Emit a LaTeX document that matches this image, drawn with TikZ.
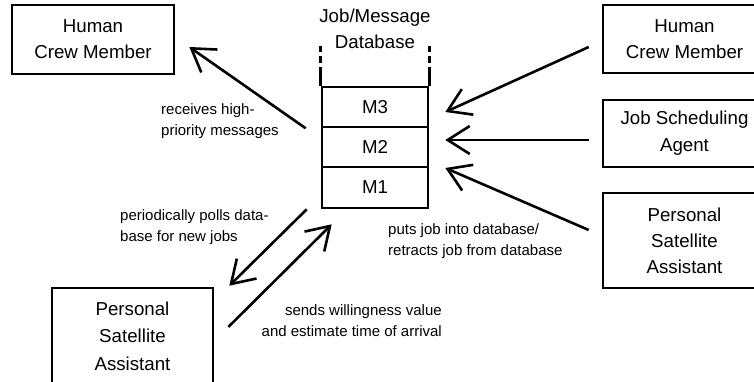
\documentclass[tikz,border=0pt]{standalone}
\usepackage{fontspec}
\setmainfont{Liberation Sans}
\usetikzlibrary{arrows.meta}
\begin{document}
\begin{tikzpicture}[x=1pt,y=-1pt,
  box/.style={draw,line width=2.6pt,align=center,inner sep=0pt,
    font=\fontsize{18.7}{26}\selectfont},
  cell/.style={draw,line width=2.6pt,minimum width=106pt,inner sep=0pt,
    font=\fontsize{18.7}{26}\selectfont},
  lbl/.style={inner sep=0pt,font=\fontsize{15}{21}\selectfont},
  arr/.style={line width=2.6pt,-{Straight Barb[length=22pt,width=28pt]}},
  dbline/.style={line width=2.6pt}]
\useasboundingbox (0,0) rectangle (754,381);
\clip (0,0) rectangle (754,381);
% boxes
\node[box,minimum width=162pt,minimum height=69pt] (tl) at (93,39.5) {Human\\Crew Member};
\node[box,minimum width=163pt,minimum height=68pt] (hr) at (684.5,39) {Human\\Crew Member};
\node[box,minimum width=163pt,minimum height=67pt,font=\fontsize{18.7}{27}\selectfont] (jsa) at (684.5,133.5) {Job Scheduling\\Agent};
\node[box,minimum width=163pt,minimum height=95pt] (psar) at (684.5,240.5) {Personal\\Satellite\\Assistant};
\node[box,minimum width=161pt,minimum height=96pt,font=\fontsize{18.7}{27.5}\selectfont] (psal) at (132.5,336) {Personal\\Satellite\\Assistant};
% database
\node[box,draw=none] (dbt) at (375,28.5) {Job/Message\\Database};
\node[cell,minimum height=40pt] (m3) at (375,107) {M3};
\node[cell,minimum height=40pt] (m2) at (375,147) {M2};
\node[cell,minimum height=41pt] (m1) at (375,187.5) {M1};
\draw[dbline] (m3.north west) -- ++(0,-19);
\draw[dbline] (m3.north east) -- ++(0,-19);
\draw[dbline] ([yshift=23pt]m3.north west) -- ++(0,-7) ([yshift=34pt]m3.north west) -- ++(0,-6);
\draw[dbline] ([yshift=23pt]m3.north east) -- ++(0,-7) ([yshift=34pt]m3.north east) -- ++(0,-6);
% arrows
\draw[arr] ([shift={(-15,0)}]m3.south west) -- ([shift={(14,7.5)}]tl.east);
\draw[arr] ([shift={(-13,8)}]hr.west) -- ([shift={(16,5)}]m3.east);
\draw[arr] ([shift={(-13,6.5)}]jsa.west) -- ([shift={(16,-7)}]m2.east);
\draw[arr] ([shift={(-13,-10.5)}]psar.west) -- ([shift={(16,-19.5)}]m1.east);
\draw[arr] ([shift={(-14,0)}]m1.south west) -- ([shift={(15,-1)}]psal.north east);
\draw[arr] ([shift={(14,-9)}]psal.east) -- ([shift={(11,15)}]m1.south west);
% labels
\node[lbl,anchor=west,align=left] (l1) at (161,121.5) {receives high-\\priority messages};
\node[lbl,anchor=west,align=left] (l2) at (120,227) {periodically polls data-\\base for new jobs};
\node[lbl,anchor=west,align=left] (l3) at (388,241) {puts job into database/\\retracts job from database};
\node[lbl,anchor=east,align=right] (l4) at (442,321) {sends willingness value\\and estimate time of arrival};
\end{tikzpicture}
\end{document}
